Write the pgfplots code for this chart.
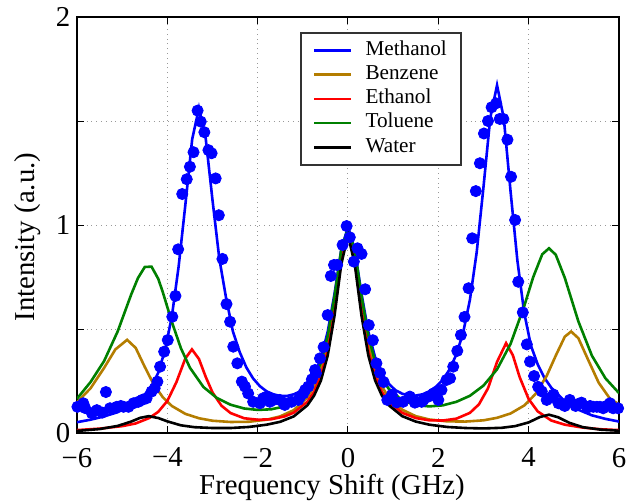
\documentclass[border=0pt]{standalone}
\usepackage{pgfplots}
\pgfplotsset{compat=1.18}
\usepackage{fontspec}
\setmainfont{Liberation Serif}
\definecolor{mblue}{RGB}{0,0,255}
\definecolor{mbrown}{RGB}{180,125,0}
\definecolor{mred}{RGB}{255,0,0}
\definecolor{mgreen}{RGB}{0,128,0}
\begin{document}
\begin{tikzpicture}
\begin{axis}[
  scale only axis, width=271pt, height=208pt,
  xmin=-6, xmax=6, ymin=0, ymax=2,
  xtick={-6,-4,-2,0,2,4,6}, xticklabels={−6,−4,−2,0,2,4,6},
  ytick={0,0.5,1,1.5,2}, yticklabels={0,,1,,2},
  grid=major, major grid style={dotted, color=black!40, line width=0.5pt},
  axis line style={line width=0.6pt},
  tick align=inside, major tick length=3.5pt, tick style={black, line width=0.5pt},
  ticklabel style={font=\fontsize{14.4}{17}\selectfont, inner sep=1pt},
  xticklabel style={yshift=-6.3pt},
  yticklabel style={xshift=-2.2pt},
  label style={font=\fontsize{14.4}{17}\selectfont},
  xlabel={Frequency Shift (GHz)}, ylabel={Intensity (a.u.)},
  xlabel style={at={(axis description cs:0.4705,-0.149)}, anchor=base},
  ylabel style={at={(axis description cs:-0.0775,0.471)}, anchor=base},
  legend cell align=left,
  legend style={at={(axis description cs:0.4115,0.9639)}, anchor=north west,
    draw=black!80, line width=0.9pt, fill=white, inner xsep=6pt, inner ysep=3pt,
    font=\fontsize{10.6}{12}\selectfont, row sep=0.5pt,
    nodes={inner sep=1pt, text height=7.2pt, text depth=2.4pt}},
  legend image code/.code={\draw (0pt,0pt) -- (18.5pt,0pt); \path (24pt,0pt);},
]
\addplot[mblue, line width=1.3pt] coordinates {
(-6,0.052)(-5.7,0.064)(-5.4,0.080)(-5.1,0.100)(-4.8,0.133)(-4.5,0.185)(-4.35,0.225)(-4.2,0.29)(-4.05,0.40)(-3.9,0.56)(-3.75,0.80)(-3.6,1.099)(-3.45,1.412)(-3.3,1.562)(-3.15,1.416)(-3.0,1.12)(-2.85,0.84)(-2.7,0.65)(-2.55,0.49)(-2.4,0.39)(-2.25,0.315)(-2.1,0.262)(-1.95,0.225)(-1.8,0.200)(-1.65,0.186)(-1.5,0.178)(-1.35,0.178)(-1.2,0.186)(-1.05,0.201)(-0.9,0.232)(-0.75,0.281)(-0.6,0.359)(-0.45,0.486)(-0.3,0.667)(-0.15,0.881)(0,0.991)(0.15,0.882)(0.3,0.668)(0.45,0.487)(0.6,0.364)(0.75,0.286)(0.9,0.237)(1.05,0.206)(1.2,0.189)(1.35,0.180)(1.5,0.180)(1.65,0.186)(1.8,0.200)(1.95,0.223)(2.1,0.256)(2.25,0.306)(2.4,0.378)(2.55,0.483)(2.7,0.641)(2.85,0.870)(3.0,1.183)(3.15,1.515)(3.3,1.672)(3.45,1.512)(3.6,1.16)(3.75,0.83)(3.9,0.58)(4.05,0.42)(4.2,0.33)(4.35,0.265)(4.5,0.218)(4.8,0.152)(5.1,0.112)(5.4,0.085)(5.7,0.068)(6.0,0.055)};
\addlegendentry{Methanol}
\addplot[mbrown, line width=1.3pt] coordinates {
(-6,0.148)(-5.7,0.215)(-5.4,0.313)(-5.15,0.402)(-4.89,0.448)(-4.7,0.409)(-4.5,0.318)(-4.3,0.233)(-4.1,0.172)(-3.9,0.130)(-3.6,0.092)(-3.3,0.071)(-3.0,0.059)(-2.6,0.053)(-2.2,0.054)(-1.8,0.064)(-1.5,0.080)(-1.2,0.110)(-0.9,0.171)(-0.75,0.224)(-0.6,0.306)(-0.45,0.432)(-0.3,0.621)(-0.15,0.846)(0,0.963)(0.15,0.846)(0.3,0.621)(0.45,0.432)(0.6,0.305)(0.75,0.224)(0.9,0.171)(1.2,0.112)(1.5,0.081)(1.8,0.065)(2.2,0.056)(2.6,0.055)(3.0,0.061)(3.3,0.073)(3.6,0.094)(3.9,0.132)(4.15,0.187)(4.4,0.275)(4.6,0.372)(4.8,0.463)(4.94,0.488)(5.1,0.456)(5.3,0.360)(5.55,0.242)(5.8,0.165)(6,0.138)};
\addlegendentry{Benzene}
\addplot[mred, line width=1.3pt] coordinates {
(-6,0.014)(-5.5,0.021)(-5,0.033)(-4.7,0.046)(-4.4,0.072)(-4.2,0.102)(-4.0,0.154)(-3.8,0.244)(-3.6,0.359)(-3.455,0.402)(-3.3,0.356)(-3.15,0.270)(-3.0,0.195)(-2.8,0.131)(-2.6,0.096)(-2.3,0.071)(-2.0,0.064)(-1.7,0.066)(-1.4,0.080)(-1.2,0.098)(-0.9,0.150)(-0.75,0.198)(-0.6,0.274)(-0.45,0.394)(-0.3,0.584)(-0.15,0.826)(0,0.961)(0.15,0.827)(0.3,0.584)(0.45,0.394)(0.6,0.273)(0.75,0.198)(0.9,0.149)(1.2,0.097)(1.5,0.072)(1.8,0.061)(2.1,0.060)(2.4,0.069)(2.7,0.097)(2.9,0.138)(3.1,0.215)(3.3,0.342)(3.5,0.432)(3.65,0.374)(3.8,0.269)(4.0,0.163)(4.2,0.104)(4.5,0.060)(4.8,0.040)(5.2,0.026)(5.6,0.018)(6,0.014)};
\addlegendentry{Ethanol}
\addplot[mgreen, line width=1.3pt] coordinates {
(-6,0.165)(-5.7,0.245)(-5.4,0.346)(-5.1,0.488)(-4.8,0.666)(-4.65,0.745)(-4.5,0.798)(-4.35,0.800)(-4.2,0.741)(-4.1,0.677)(-3.9,0.534)(-3.7,0.408)(-3.5,0.314)(-3.2,0.221)(-2.9,0.168)(-2.6,0.136)(-2.3,0.118)(-2.0,0.111)(-1.7,0.114)(-1.4,0.128)(-1.2,0.148)(-0.9,0.206)(-0.75,0.258)(-0.6,0.339)(-0.45,0.466)(-0.3,0.654)(-0.15,0.880)(0,0.985)(0.15,0.878)(0.3,0.657)(0.45,0.469)(0.6,0.343)(0.75,0.263)(0.9,0.213)(1.2,0.157)(1.5,0.134)(1.8,0.128)(2.1,0.133)(2.4,0.150)(2.7,0.179)(3.0,0.228)(3.3,0.306)(3.6,0.429)(3.9,0.609)(4.1,0.749)(4.3,0.859)(4.45,0.888)(4.6,0.857)(4.8,0.746)(5.1,0.537)(5.4,0.372)(5.7,0.263)(6,0.192)};
\addlegendentry{Toluene}
\addplot[black, line width=1.3pt] coordinates {
(-6,0.010)(-5.5,0.019)(-5.1,0.034)(-4.8,0.055)(-4.6,0.073)(-4.41,0.081)(-4.2,0.072)(-4.0,0.056)(-3.7,0.037)(-3.4,0.028)(-3.0,0.024)(-2.6,0.024)(-2.2,0.029)(-1.8,0.040)(-1.5,0.054)(-1.2,0.080)(-0.9,0.133)(-0.75,0.180)(-0.6,0.252)(-0.45,0.372)(-0.3,0.562)(-0.15,0.810)(0,0.952)(0.15,0.811)(0.3,0.563)(0.45,0.373)(0.6,0.253)(0.75,0.180)(0.9,0.134)(1.2,0.081)(1.5,0.055)(1.8,0.040)(2.2,0.029)(2.6,0.024)(3.0,0.022)(3.4,0.025)(3.7,0.033)(4.0,0.051)(4.25,0.077)(4.45,0.088)(4.65,0.076)(4.9,0.049)(5.2,0.028)(5.6,0.016)(6,0.011)};
\addlegendentry{Water}
\addplot[only marks, mark=*, mark size=2.8pt, color=mblue, forget plot] coordinates {
(-5.99,0.126)(-5.86,0.143)(-5.82,0.120)(-5.67,0.095)(-5.56,0.110)(-5.44,0.098)(-5.36,0.197)(-5.27,0.119)(-5.12,0.126)(-5.03,0.130)(-4.97,0.126)(-4.86,0.126)(-4.75,0.143)(-4.64,0.150)(-4.55,0.160)(-4.46,0.167)(-4.35,0.199)(-4.28,0.215)(-4.22,0.247)(-4.16,0.319)(-4.07,0.391)(-3.99,0.447)(-3.89,0.559)(-3.82,0.659)(-3.76,0.883)(-3.67,1.149)(-3.57,1.220)(-3.50,1.280)(-3.42,1.350)(-3.33,1.550)(-3.26,1.497)(-3.18,1.446)(-3.09,1.360)(-3.02,1.345)(-2.93,1.224)(-2.86,1.047)(-2.78,0.837)(-2.69,0.620)(-2.61,0.535)(-2.54,0.415)(-2.45,0.335)(-2.35,0.247)(-2.28,0.223)(-2.21,0.190)(-2.10,0.150)(-1.95,0.143)(-1.88,0.167)(-1.80,0.175)(-1.73,0.150)(-1.65,0.159)(-1.51,0.159)(-1.43,0.146)(-1.40,0.135)(-1.25,0.150)(-1.10,0.159)(-1.06,0.175)(-0.99,0.190)(-0.95,0.207)(-0.88,0.223)(-0.80,0.258)(-0.73,0.303)(-0.71,0.287)(-0.62,0.359)(-0.54,0.413)(-0.45,0.567)(-0.38,0.755)(-0.31,0.808)(-0.24,0.808)(-0.12,0.904)(-0.03,0.995)(0.04,0.941)(0.13,0.824)(0.21,0.888)(0.30,0.861)(0.38,0.691)(0.46,0.519)(0.55,0.446)(0.63,0.335)(0.71,0.289)(0.79,0.245)(0.87,0.159)(0.97,0.183)(1.08,0.147)(1.22,0.150)(1.37,0.175)(1.48,0.146)(1.52,0.150)(1.63,0.150)(1.67,0.159)(1.78,0.175)(1.89,0.190)(1.96,0.190)(2.00,0.159)(2.07,0.207)(2.18,0.255)(2.26,0.263)(2.33,0.319)(2.42,0.395)(2.50,0.471)(2.58,0.558)(2.67,0.696)(2.75,0.936)(2.83,1.163)(2.92,1.297)(3.01,1.440)(3.10,1.500)(3.18,1.566)(3.28,1.585)(3.36,1.510)(3.44,1.510)(3.53,1.410)(3.61,1.232)(3.70,1.024)(3.77,0.727)(3.87,0.580)(3.96,0.426)(4.03,0.343)(4.12,0.274)(4.21,0.222)(4.29,0.200)(4.40,0.159)(4.48,0.170)(4.55,0.185)(4.66,0.143)(4.72,0.140)(4.80,0.130)(4.91,0.159)(5.04,0.130)(5.10,0.140)(5.17,0.146)(5.30,0.122)(5.36,0.130)(5.43,0.126)(5.51,0.126)(5.58,0.126)(5.65,0.119)(5.72,0.130)(5.80,0.143)(5.87,0.119)(5.98,0.119)};
\end{axis}
\pgfresetboundingbox
\path[use as bounding box] (-38.5pt,-33.5pt) rectangle (277.5pt,216.5pt);
\end{tikzpicture}
\end{document}
